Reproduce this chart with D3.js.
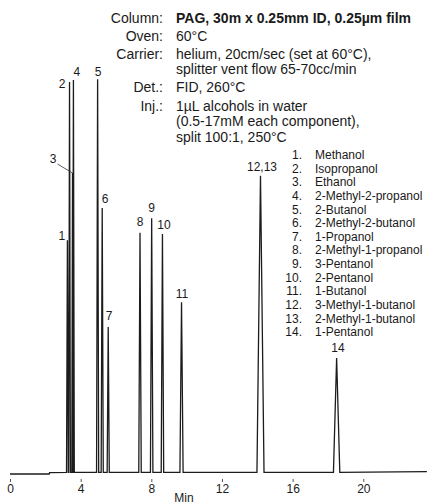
<!DOCTYPE html>
<html>
<head>
<meta charset="utf-8">
<title>PAG alcohols chromatogram</title>
<script src="https://cdn.jsdelivr.net/npm/d3@7"></script>
<style>
  body { margin: 0; background: #fff; }
  svg text { font-family: "Liberation Sans", Arial, Helvetica, sans-serif; fill: #1a1a1a; }
</style>
</head>
<body>
<div id="chart"></div>
<script>
// peak data (time in min, response in % of tallest peak)
var peakIds    = ["1", "2", "3", "4", "5", "6", "7", "8", "9", "10", "11", "12,13", "14"];
var peakTimes  = [3.25, 3.37, 3.54, 3.59, 4.96, 5.22, 5.56, 7.36, 8.02, 8.63, 9.71, 14.18, 18.49];
var peakHeights = [59, 99, 76, 99.5, 99.7, 67.2, 37.1, 60.9, 64.6, 60.6, 43.4, 75.3, 29.3];
var peakWidths = [0.05, 0.05, 0.04, 0.05, 0.06, 0.06, 0.06, 0.07, 0.07, 0.07, 0.09, 0.2, 0.18];

// baseline (drifts up slightly after the solvent front)
var baseTimes  = [0, 2.22, 2.24, 23.6];
var baseLevels = [0, 0, 0.33, 0.58];
var footLevel = 0.4;

var xTicks = [0, 4, 8, 12, 16, 20];

var compounds = ["Methanol", "Isopropanol", "Ethanol", "2-Methyl-2-propanol", "2-Butanol",
  "2-Methyl-2-butanol", "1-Propanol", "2-Methyl-1-propanol", "3-Pentanol", "2-Pentanol",
  "1-Butanol", "3-Methyl-1-butanol", "2-Methyl-1-butanol", "1-Pentanol"];

var specLabels = ["Column:", "Oven:", "Carrier:", "", "Det.:", "Inj.:", "", ""];
var specValues = ["PAG, 30m x 0.25mm ID, 0.25\u00b5m film", "60\u00b0C",
  "helium, 20cm/sec (set at 60\u00b0C),", "splitter vent flow 65-70cc/min",
  "FID, 260\u00b0C", "1\u00b5L alcohols in water", "(0.5-17mM each component),",
  "split 100:1, 250\u00b0C"];

// layout
var w = 427, h = 504;
var specY = [23, 41, 58.5, 73.5, 92, 110.5, 126, 141.5];
// label offsets from each apex (px)
var labelDx = [-5.5, -7.5, -19.5, 3.5, 0.5, 3, 1, 0, 0, 1.5, 0.5, 1.5, 1.3];
var labelDy = [-5, 2, -14, -8, -7, -9, -11, -11, -10, -9, -8.5, -9, -10];

var svg = d3.select("#chart").append("svg")
  .attr("width", w)
  .attr("height", h);

var x = d3.scaleLinear().domain([0, 20]).range([10, 363.3]);
var y = d3.scaleLinear().domain([0, 100]).range([474, 78]);

// build the trace: baseline, then a spike for each peak
var trace = [];
for (var i = 0; i < 3; i++) trace.push([baseTimes[i], baseLevels[i]]);
for (var p = 0; p < peakTimes.length; p++) {
  trace.push([peakTimes[p] - peakWidths[p], footLevel]);
  trace.push([peakTimes[p], peakHeights[p]]);
  trace.push([peakTimes[p] + peakWidths[p], footLevel]);
}
trace.push([baseTimes[3], baseLevels[3]]);

var line = d3.line()
  .x(function(d) { return x(d[0]); })
  .y(function(d) { return y(d[1]); });

svg.append("path")
  .datum(trace)
  .attr("d", line)
  .attr("fill", "none")
  .attr("stroke", "#1c1c1c")
  .attr("stroke-width", 1.3)
  .attr("stroke-linejoin", "miter");

// x axis - only little ticks and labels, no axis line
var axis = svg.append("g")
  .attr("transform", "translate(0,479)")
  .call(d3.axisBottom(x).tickValues(xTicks).tickSize(3).tickPadding(2));
axis.select(".domain").remove();
axis.selectAll(".tick line").attr("stroke", "#555");
axis.selectAll(".tick text")
  .attr("font-size", "12px")
  .attr("font-family", "Liberation Sans, Arial, sans-serif")
  .attr("fill", "#222");

svg.append("text")
  .attr("x", 184)
  .attr("y", 502)
  .attr("text-anchor", "middle")
  .attr("font-size", "12px")
  .text("Min");

// peak number labels
svg.selectAll("text.peak")
  .data(peakIds)
  .enter()
  .append("text")
  .attr("class", "peak")
  .attr("x", function(d, i) { return x(peakTimes[i]) + labelDx[i]; })
  .attr("y", function(d, i) { return y(peakHeights[i]) + labelDy[i] + 4.3; })
  .attr("text-anchor", "middle")
  .attr("font-size", "12px")
  .text(function(d) { return d; });

// leader line for the shoulder peak 3
svg.append("line")
  .attr("x1", x(peakTimes[2]) - 15)
  .attr("y1", y(peakHeights[2]) - 9)
  .attr("x2", x(peakTimes[2]))
  .attr("y2", y(peakHeights[2]))
  .attr("stroke", "#333")
  .attr("stroke-width", 0.8);

// conditions block
var spec = svg.append("g");
spec.selectAll("text.lab")
  .data(specLabels)
  .enter()
  .append("text")
  .attr("class", "lab")
  .attr("x", 163)
  .attr("y", function(d, i) { return specY[i]; })
  .attr("text-anchor", "end")
  .attr("font-size", "14px")
  .text(function(d) { return d; });
spec.selectAll("text.val")
  .data(specValues)
  .enter()
  .append("text")
  .attr("class", "val")
  .attr("x", 176)
  .attr("y", function(d, i) { return specY[i]; })
  .attr("font-size", "14px")
  .attr("font-weight", function(d, i) { return i === 0 ? "bold" : "normal"; })
  .text(function(d) { return d; });

// compound list
var legend = svg.append("g");
legend.selectAll("text.num")
  .data(compounds)
  .enter()
  .append("text")
  .attr("class", "num")
  .attr("x", 302)
  .attr("y", function(d, i) { return 159 + i * 13.64; })
  .attr("text-anchor", "end")
  .attr("font-size", "12px")
  .text(function(d, i) { return (i + 1) + "."; });
legend.selectAll("text.name")
  .data(compounds)
  .enter()
  .append("text")
  .attr("class", "name")
  .attr("x", 315)
  .attr("y", function(d, i) { return 159 + i * 13.64; })
  .attr("font-size", "12px")
  .text(function(d) { return d; });
</script>
</body>
</html>
